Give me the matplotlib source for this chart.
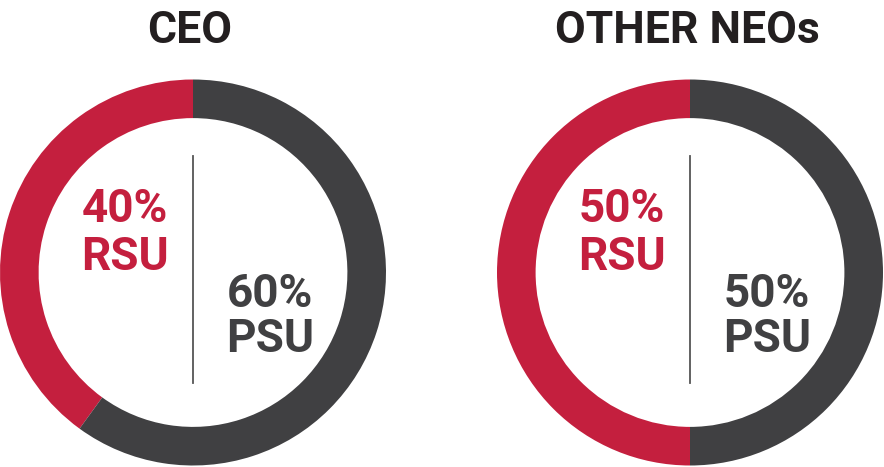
import matplotlib
matplotlib.use("Agg")
import matplotlib.pyplot as plt

# chart data
groups = ["CEO", "OTHER NEOs"]
rsu_share = [40, 50]
psu_share = [60, 50]
part_names = ["RSU", "PSU"]

red = "#C41F3E"
dark = "#404042"

W, H = 884, 467
fig = plt.figure(figsize=(W / 100, H / 100), dpi=100)
fig.patch.set_facecolor("white")


def fx(px):
    return px / W


def fy(py):
    # py measured from the top of the image
    return 1 - py / H


centers = [193, 690]
radius = 193
cy = 272.5

for i, name in enumerate(groups):
    cx = centers[i]
    ax = fig.add_axes([fx(cx - radius), fy(cy + radius), 2 * radius / W, 2 * radius / H])
    ax.pie([rsu_share[i], psu_share[i]], colors=[red, dark], startangle=90,
           counterclock=True, radius=1,
           wedgeprops=dict(width=0.2, edgecolor="none"))
    ax.set_xlim(-1, 1)
    ax.set_ylim(-1, 1)
    ax.axis("off")

    # divider line
    fig.add_artist(plt.Line2D([fx(cx), fx(cx)], [fy(156), fy(383)],
                              color="#555555", lw=1.3))

    # title
    fig.text(fx(cx - 3), fy(43), name, ha="center", va="baseline",
             fontsize=32, fontweight="bold", family="Roboto", color="#231F20")

    # labels
    fig.text(fx(cx - 68), fy(222), f"{rsu_share[i]}%", ha="center", va="baseline",
             fontsize=33, fontweight="bold", family="Roboto", color=red)
    fig.text(fx(cx - 68), fy(270), part_names[0], ha="center", va="baseline",
             fontsize=33, fontweight="bold", family="Roboto", color=red)
    fig.text(fx(cx + 77), fy(307), f"{psu_share[i]}%", ha="center", va="baseline",
             fontsize=33, fontweight="bold", family="Roboto", color=dark)
    fig.text(fx(cx + 77), fy(352), part_names[1], ha="center", va="baseline",
             fontsize=33, fontweight="bold", family="Roboto", color=dark)

fig.savefig("out.png", dpi=100, facecolor="white")
